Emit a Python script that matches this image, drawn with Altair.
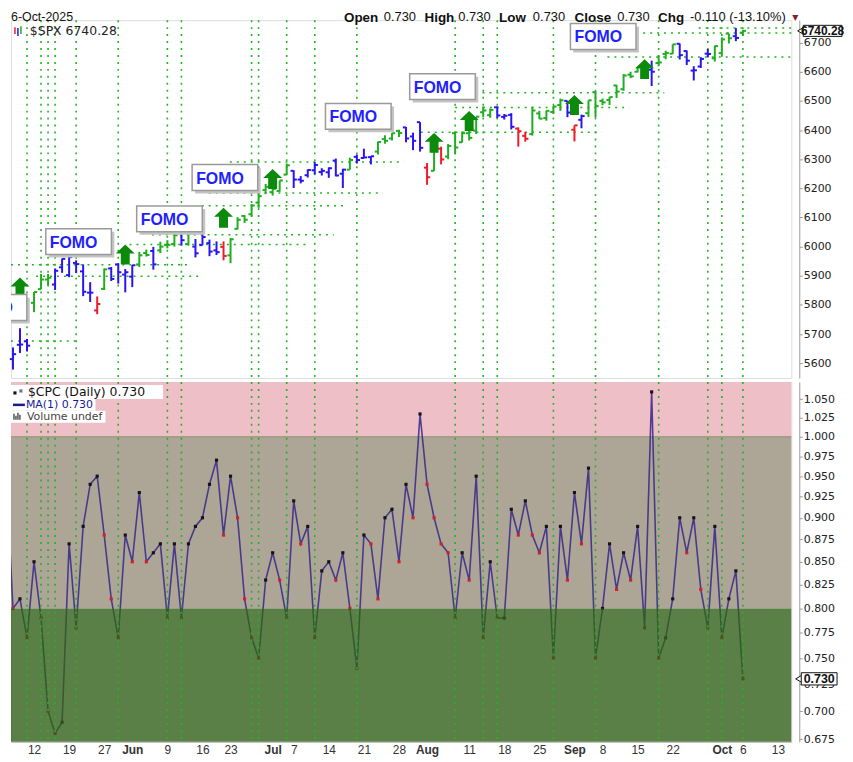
import json
import altair as alt
import pandas as pd

# ---------------- data (trading-day index: 0 = 7 May 2025 ... 104 = 6 Oct 2025) ----------------
spx_open = [5614, 5663, 5675, 5807, 5854, 5887, 5870, 5929, 5902, 5944,
            5915, 5842, 5781, 5855, 5925, 5939, 5904, 5897, 5939, 5978,
            5985, 5987, 6005, 6009, 6049, 6009, 6000, 6005, 6012, 5987,
            5999, 5970, 6061, 6105, 6111, 6151, 6194, 6187, 6191, 6247,
            6260, 6230, 6245, 6262, 6256, 6255, 6295, 6250, 6264, 6308,
            6304, 6307, 6326, 6369, 6371, 6397, 6409, 6378, 6427, 6271,
            6260, 6336, 6309, 6389, 6358, 6389, 6398, 6461, 6451, 6478,
            6445, 6452, 6405, 6380, 6386, 6457, 6441, 6462, 6486, 6500,
            6401, 6435, 6458, 6530, 6500, 6503, 6553, 6540, 6590, 6600,
            6620, 6607, 6630, 6661, 6662, 6696, 6671, 6604, 6618, 6662,
            6646, 6664, 6731, 6722, 6734]
spx_high = [5654, 5720, 5683, 5844, 5906, 5906, 5925, 5959, 5969, 5953,
            5939, 5878, 5829, 5925, 5930, 5943, 5923, 5937, 5982, 5990,
            5999, 6017, 6022, 6043, 6059, 6045, 6026, 6050, 6024, 6018,
            6018, 6029, 6101, 6108, 6146, 6187, 6215, 6211, 6227, 6285,
            6262, 6242, 6265, 6290, 6269, 6272, 6302, 6267, 6305, 6316,
            6336, 6310, 6360, 6382, 6390, 6401, 6410, 6391, 6427, 6287,
            6330, 6343, 6352, 6395, 6395, 6409, 6446, 6481, 6474, 6481,
            6455, 6458, 6409, 6394, 6480, 6466, 6467, 6482, 6508, 6500,
            6416, 6453, 6502, 6533, 6508, 6513, 6555, 6592, 6600, 6616,
            6627, 6638, 6656, 6672, 6694, 6697, 6673, 6619, 6650, 6678,
            6690, 6718, 6731, 6750, 6744]
spx_low = [5578, 5635, 5640, 5775, 5854, 5868, 5851, 5910, 5895, 5909,
           5830, 5810, 5768, 5851, 5882, 5873, 5843, 5861, 5930, 5966,
           5921, 5978, 5994, 6000, 6003, 6003, 5963, 6005, 5967, 5971,
           5953, 5943, 6059, 6081, 6103, 6133, 6180, 6175, 6188, 6247,
           6201, 6217, 6237, 6248, 6244, 6236, 6241, 6201, 6264, 6285,
           6303, 6282, 6316, 6353, 6364, 6376, 6358, 6331, 6326, 6212,
           6260, 6282, 6300, 6317, 6357, 6364, 6386, 6445, 6442, 6441,
           6436, 6402, 6343, 6360, 6381, 6438, 6432, 6455, 6466, 6444,
           6361, 6406, 6445, 6443, 6485, 6486, 6510, 6535, 6578, 6598,
           6601, 6551, 6619, 6643, 6661, 6642, 6623, 6570, 6613, 6649,
           6635, 6656, 6697, 6705, 6723]
spx_close = [5631, 5664, 5660, 5844, 5887, 5893, 5917, 5958, 5964, 5940,
             5845, 5842, 5803, 5922, 5889, 5912, 5912, 5936, 5970, 5971,
             5939, 6000, 6006, 6039, 6022, 6045, 5977, 6033, 5983, 5981,
             5968, 6025, 6092, 6092, 6141, 6173, 6205, 6198, 6227, 6279,
             6230, 6226, 6263, 6280, 6260, 6269, 6244, 6264, 6297, 6297,
             6306, 6310, 6359, 6363, 6389, 6390, 6371, 6363, 6339, 6238,
             6330, 6299, 6345, 6340, 6389, 6373, 6446, 6467, 6469, 6450,
             6449, 6411, 6396, 6370, 6467, 6439, 6466, 6481, 6502, 6460,
             6416, 6448, 6502, 6482, 6495, 6513, 6532, 6587, 6584, 6615,
             6607, 6600, 6632, 6664, 6694, 6657, 6638, 6605, 6644, 6661,
             6688, 6711, 6715, 6716, 6740.28]
# bar colour state: g = green, b = blue, r = red
bar_state = list("bbbgggbbbbbb" "r" "g" "bbbb" "gg" "b" "ggg" "b" "g" "bbbb" "r"
                 "ggggggggg" "bbbbbbbb" "g" "bbb" "gggg" "bbb" "r" "g" "r" "ggggggg"
                 "bbb" "rr" "ggggg" "b" "r" "b" "ggggggggg" "b" "ggg" "bbbbb" "ggg" "b" "g")

cpc_prev = 0.96
cpc_values = [0.80, 0.81, 0.77, 0.85, 0.79, 0.70, 0.68, 0.69, 0.87, 0.78,
              0.89, 0.94, 0.95, 0.88, 0.81, 0.77, 0.88, 0.85, 0.93, 0.85,
              0.86, 0.87, 0.79, 0.87, 0.79, 0.87, 0.89, 0.90, 0.94, 0.97,
              0.88, 0.95, 0.90, 0.81, 0.77, 0.75, 0.83, 0.86, 0.83, 0.79,
              0.92, 0.87, 0.89, 0.77, 0.84, 0.85, 0.83, 0.86, 0.80, 0.74,
              0.88, 0.87, 0.81, 0.90, 0.91, 0.85, 0.94, 0.90, 1.03, 0.94,
              0.90, 0.87, 0.86, 0.79, 0.86, 0.83, 0.95, 0.77, 0.85, 0.79,
              0.79, 0.91, 0.88, 0.92, 0.88, 0.86, 0.89, 0.75, 0.89, 0.83,
              0.93, 0.87, 0.96, 0.75, 0.80, 0.87, 0.82, 0.86, 0.83, 0.89,
              0.78, 1.06, 0.75, 0.77, 0.81, 0.90, 0.86, 0.90, 0.82, 0.78,
              0.89, 0.77, 0.81, 0.84, 0.73]

vline_idx = [2, 4, 5, 6, 9, 15, 22, 24, 34, 35, 39, 43, 49, 63, 67, 69, 77, 83, 92, 99, 101, 104]

hline_start = [-0.28, -0.28, 3.3, 16.6, 19.8, 26.9, 27.9, 30.9, 58.1, 63.0, 66.9, 84.7, 88.8, 97.7]
hline_end = [9.2, 25.2, 27.0, 41.8, 45.7, 47.7, 52.7, 55.7, 83.9, 87.8, 92.8, 110.8, 111.6, 111.6]
hline_price = [5676, 5938, 5898, 6007, 6041, 6140, 6184, 6290, 6392, 6477, 6528, 6651, 6733, 6750]

arrow_idx = [1, 16, 30, 37, 60, 65, 80, 90]
arrow_price = [5860, 5973, 6099, 6232, 6356, 6431, 6486, 6609]

fomo_idx = [-2.7, 9.35, 22.3, 30.2, 49.2, 61.2, 84.1]
fomo_price = [5791, 6017, 6095, 6237, 6447, 6549, 6721]

x_tick_idx = [3, 8, 13, 17, 22, 27, 31, 37, 40, 45, 50, 55, 59, 65, 70, 75, 80, 84, 89, 94, 101, 104, 109]
x_tick_text = ["12", "19", "27", "Jun", "9", "16", "23", "Jul", "7", "14", "21", "28", "Aug",
               "11", "18", "25", "Sep", "8", "15", "22", "Oct", "6", "13"]
month_idx = [17, 37, 59, 80, 101]

spx_ticks = [5600, 5700, 5800, 5900, 6000, 6100, 6200, 6300, 6400, 6500, 6600, 6700]
cpc_ticks = [0.675, 0.700, 0.725, 0.750, 0.775, 0.800, 0.825, 0.850, 0.875, 0.900,
             0.925, 0.950, 0.975, 1.000, 1.025, 1.050]
pink_lo, pink_hi = 1.0, 1.0737
tan_lo, tan_hi = 0.8, 1.0
green_lo, green_hi = 0.6726, 0.8

last_spx = 6740.28
last_cpc = 0.73

# ---------------- frames ----------------
n = len(spx_close)
bars = pd.DataFrame({"idx": list(range(n)), "o": spx_open, "h": spx_high, "l": spx_low,
                     "c": spx_close, "state": bar_state})
hlines = pd.DataFrame({"xs": hline_start, "xe": hline_end, "p": hline_price})
vlines = pd.DataFrame({"idx": vline_idx})
arrows = pd.DataFrame({"idx": arrow_idx, "p": arrow_price})
fomo = pd.DataFrame({"idx": fomo_idx, "p": fomo_price, "t": ["FOMO"] * len(fomo_idx)})

cpc_all = [cpc_prev] + cpc_values
cpc_line = pd.DataFrame({"idx": list(range(-1, n)), "v": cpc_all})
cpc_down = [cpc_all[k + 1] < cpc_all[k] for k in range(n)]
pts_up = pd.DataFrame({"idx": [k for k in range(n) if not cpc_down[k]],
                       "v": [cpc_values[k] for k in range(n) if not cpc_down[k]]})
pts_dn = pd.DataFrame({"idx": [k for k in range(n) if cpc_down[k]],
                       "v": [cpc_values[k] for k in range(n) if cpc_down[k]]})

# ---------------- scales / axes ----------------
W, H_TOP, H_BOT = 785, 360, 362
xs = alt.Scale(domain=[-0.283, 110.9], nice=False, zero=False)
ys_top = alt.Scale(domain=[5549, 6777], nice=False, zero=False)
ys_bot = alt.Scale(type="log", domain=[0.6726, 1.0737], nice=False)
state_scale = alt.Scale(domain=["g", "b", "r"], range=["#1fae1f", "#2a14f2", "#ee1c2b"])

y_axis_top = alt.Axis(orient="right", values=spx_ticks, format="d", offset=8, grid=False, title=None,
                      domainColor="#9a9a9a", tickColor="#9a9a9a", tickSize=3, labelPadding=1,
                      labelFont="DejaVu Sans", labelFontSize=11, labelColor="#222")
y_axis_bot = alt.Axis(orient="right", values=cpc_ticks, format=".3f", offset=8, grid=False, title=None,
                      domainColor="#9a9a9a", tickColor="#9a9a9a", tickSize=3, labelPadding=1,
                      labelFont="DejaVu Sans", labelFontSize=11, labelColor="#222")
ti = json.dumps(x_tick_idx)
label_expr = f"indexof({ti}, datum.value) >= 0 ? {json.dumps(x_tick_text)}[indexof({ti}, datum.value)] : ''"
x_axis_bot = alt.Axis(values=x_tick_idx, labelExpr=label_expr, grid=False, title=None,
                      domainColor="#bbbbbb", ticks=False, labelPadding=3, labelFlush=False,
                      labelOverlap=False, labelFont="Liberation Sans", labelFontSize=12,
                      labelColor="#333",
                      labelFontWeight={"condition": {"test": f"indexof({json.dumps(month_idx)}, datum.value) >= 0",
                                                     "value": "bold"}, "value": "normal"})

XT = lambda f: alt.X(f, scale=xs, axis=None)
YT = lambda f: alt.Y(f, scale=ys_top, axis=y_axis_top)
XB = lambda f: alt.X(f, scale=xs, axis=x_axis_bot)
YB = lambda f: alt.Y(f, scale=ys_bot, axis=y_axis_bot)

DOT = "#22b422"
DASH = [2, 5]


def txt(text, x, y, size=12, weight="normal", color="#111", font="DejaVu Sans", align="left",
        baseline="middle"):
    return alt.Chart().mark_text(text=text, align=align, baseline=baseline, font=font, fontSize=size,
                                 fontWeight=weight, color=color).encode(x=alt.value(x), y=alt.value(y))


# ---------------- top panel ----------------
t_hl = alt.Chart(hlines).mark_rule(color=DOT, strokeWidth=1.5, strokeDash=DASH).encode(
    x=XT("xs:Q"), x2="xe:Q", y=YT("p:Q"))
t_vl = alt.Chart(vlines).mark_rule(color=DOT, strokeWidth=1.6, strokeDash=DASH).encode(x=XT("idx:Q"))
col = alt.Color("state:N", scale=state_scale, legend=None)
t_bar = alt.Chart(bars).mark_rule(strokeWidth=2).encode(x=XT("idx:Q"), y=YT("l:Q"), y2="h:Q", color=col)
t_open = alt.Chart(bars).transform_calculate(xl="datum.idx - 0.45").mark_rule(strokeWidth=2).encode(
    x=XT("xl:Q"), x2="idx:Q", y=YT("o:Q"), color=col)
t_close = alt.Chart(bars).transform_calculate(xr="datum.idx + 0.45").mark_rule(strokeWidth=2).encode(
    x=XT("idx:Q"), x2="xr:Q", y=YT("c:Q"), color=col)

ARROW = "M0,-1 L0.95,-0.1 L0.45,-0.1 L0.45,1 L-0.45,1 L-0.45,-0.1 L-0.95,-0.1 Z"
t_arrow = alt.Chart(arrows).mark_point(shape=ARROW, filled=True, size=400, color="#0b8a0b",
                                       opacity=1).encode(x=XT("idx:Q"), y=YT("p:Q"))
BOX = "M-1,-0.394 L1,-0.394 L1,0.394 L-1,0.394 Z"
SHADOW = "M-0.91,-0.30 L1.09,-0.30 L1.09,0.485 L-0.91,0.485 Z"
t_shadow = alt.Chart(fomo).mark_point(shape=SHADOW, filled=True, size=4356, color="#c4c4c4", opacity=1,
                                      clip=True).encode(x=XT("idx:Q"), y=YT("p:Q"))
t_box = alt.Chart(fomo).mark_point(shape=BOX, filled=True, size=4356, fill="white", stroke="#9a9a9a",
                                   strokeWidth=1.5, opacity=1, clip=True).encode(x=XT("idx:Q"), y=YT("p:Q"))
t_fomo = alt.Chart(fomo).mark_text(font="Liberation Sans", fontSize=16, fontWeight="bold", color="#1f1fff",
                                   dx=-5, dy=1, clip=True).encode(x=XT("idx:Q"), y=YT("p:Q"), text="t:N")

legend_top = [
    alt.Chart().mark_rule(color="#ee1c2b", strokeWidth=1.5).encode(x=alt.value(4), y=alt.value(7), y2=alt.value(14)),
    alt.Chart().mark_rule(color="#2a14f2", strokeWidth=1.5).encode(x=alt.value(7), y=alt.value(8), y2=alt.value(16)),
    alt.Chart().mark_rule(color="#1fae1f", strokeWidth=1.5).encode(x=alt.value(10), y=alt.value(6), y2=alt.value(14)),
    txt("$SPX 6740.28", 19, 11, size=12.5, color="#222"),
]
HY = -9
header = [
    txt("6-Oct-2025", 0, HY, size=12.5, baseline="top", font="Liberation Sans"),
    txt("Open", 335, HY, size=13.5, weight="bold", baseline="top", font="Liberation Sans"),
    txt("0.730", 375, HY, size=13, baseline="top", font="Liberation Sans"),
    txt("High", 416, HY, size=13.5, weight="bold", baseline="top", font="Liberation Sans"),
    txt("0.730", 450, HY, size=13, baseline="top", font="Liberation Sans"),
    txt("Low", 491, HY, size=13.5, weight="bold", baseline="top", font="Liberation Sans"),
    txt("0.730", 525, HY, size=13, baseline="top", font="Liberation Sans"),
    txt("Close", 567, HY, size=13.5, weight="bold", baseline="top", font="Liberation Sans"),
    txt("0.730", 610, HY, size=13, baseline="top", font="Liberation Sans"),
    txt("Chg", 651, HY, size=13.5, weight="bold", baseline="top", font="Liberation Sans"),
    txt("-0.110 (-13.10%)", 683, HY, size=13, baseline="top", font="Liberation Sans"),
    txt("\u25bc", 786, HY + 3, size=8, color="#8b1a2a", baseline="top"),
]
spx_tag_df = pd.DataFrame({"p": [last_spx], "t": [f"{last_spx:.2f}"]})
t_tag_tri = alt.Chart(spx_tag_df).mark_point(shape="triangle-left", filled=True, size=70, fill="white",
                                             stroke="#111", strokeWidth=1, opacity=1).encode(
    x=alt.value(795), y=YT("p:Q"))
t_tag_box = alt.Chart(spx_tag_df).transform_calculate(p1="datum.p + 19", p2="datum.p - 19").mark_rect(
    fill="white", stroke="#111", strokeWidth=1).encode(
    x=alt.value(797), x2=alt.value(836), y=YT("p1:Q"), y2="p2:Q")
t_tag_txt = alt.Chart(spx_tag_df).mark_text(font="Liberation Sans", fontSize=12, fontWeight="bold",
                                            color="#111").encode(x=alt.value(816.5), y=YT("p:Q"), text="t:N")

top = alt.layer(t_hl, t_vl, t_bar, t_open, t_close, t_arrow, t_shadow, t_box, t_fomo,
                *legend_top, *header, t_tag_tri, t_tag_box, t_tag_txt).properties(width=W, height=H_TOP)

# ---------------- bottom panel ----------------
def band(lo, hi, color, opacity=1.0):
    return alt.Chart(pd.DataFrame({"lo": [lo], "hi": [hi]})).mark_rect(color=color, opacity=opacity).encode(
        x=alt.value(0), x2=alt.value(W), y=YB("lo:Q"), y2="hi:Q")


b_pink = band(pink_lo, pink_hi, "#efbfc7")
b_tan = band(tan_lo, tan_hi, "#ada596")
b_one = alt.Chart(pd.DataFrame({"v": [1.0]})).mark_rule(color="#8a9470", strokeWidth=1).encode(y=YB("v:Q"))
b_line = alt.Chart(cpc_line).mark_line(color="#3d2f8a", strokeWidth=1.6, opacity=0.9, clip=True).encode(
    x=XB("idx:Q"), y=YB("v:Q"))
b_up = alt.Chart(pts_up).mark_square(size=10, color="#141414", opacity=1).encode(x=XB("idx:Q"), y=YB("v:Q"))
b_dn = alt.Chart(pts_dn).mark_square(size=10, color="#d0202c", opacity=1).encode(x=XB("idx:Q"), y=YB("v:Q"))
b_green = band(green_lo, green_hi, "#316019", 0.8)
b_vl = alt.Chart(vlines).mark_rule(color=DOT, strokeWidth=1.6, strokeDash=DASH).encode(x=XB("idx:Q"))

legend_bot = [
    alt.Chart().mark_rect(color="white").encode(x=alt.value(0), x2=alt.value(153), y=alt.value(3), y2=alt.value(17)),
    alt.Chart().mark_rect(color="white").encode(x=alt.value(0), x2=alt.value(85), y=alt.value(17), y2=alt.value(29)),
    alt.Chart().mark_rect(color="white").encode(x=alt.value(0), x2=alt.value(95), y=alt.value(29), y2=alt.value(41)),
    alt.Chart().mark_square(size=10, color="#111", opacity=1).encode(x=alt.value(4), y=alt.value(11)),
    alt.Chart().mark_square(size=10, color="#777", opacity=1).encode(x=alt.value(10), y=alt.value(9)),
    txt("$CPC (Daily) 0.730", 17, 10, size=12.5, color="#111"),
    alt.Chart().mark_rule(color="#1a1a8c", strokeWidth=2.5).encode(x=alt.value(2), x2=alt.value(14), y=alt.value(23)),
    txt("MA(1) 0.730", 15, 23, size=11, color="#1a1a99"),
    alt.Chart().mark_rule(color="#555", strokeWidth=1.5).encode(x=alt.value(3), y=alt.value(32), y2=alt.value(38)),
    alt.Chart().mark_rule(color="#555", strokeWidth=1.5).encode(x=alt.value(5), y=alt.value(34), y2=alt.value(38)),
    alt.Chart().mark_rule(color="#555", strokeWidth=1.5).encode(x=alt.value(7), y=alt.value(31), y2=alt.value(38)),
    alt.Chart().mark_rule(color="#555", strokeWidth=1.5).encode(x=alt.value(9), y=alt.value(33), y2=alt.value(38)),
    txt("Volume undef", 16, 35, size=11, color="#444"),
]
cpc_tag_df = pd.DataFrame({"v": [last_cpc], "t": [f"{last_cpc:.3f}"]})
b_tag_tri = alt.Chart(cpc_tag_df).mark_point(shape="triangle-left", filled=True, size=70, fill="white",
                                             stroke="#111", strokeWidth=1, opacity=1).encode(
    x=alt.value(793), y=YB("v:Q"))
b_tag_box = alt.Chart(cpc_tag_df).transform_calculate(v1="datum.v * 1.0080", v2="datum.v / 1.0080").mark_rect(
    fill="white", stroke="#111", strokeWidth=1).encode(
    x=alt.value(795), x2=alt.value(831), y=YB("v1:Q"), y2="v2:Q")
b_tag_txt = alt.Chart(cpc_tag_df).mark_text(font="Liberation Sans", fontSize=12.5, fontWeight="bold",
                                            color="#111").encode(x=alt.value(813), y=YB("v:Q"), text="t:N")

bottom = alt.layer(b_pink, b_tan, b_one, b_line, b_up, b_dn, b_green, b_vl, *legend_bot,
                   b_tag_tri, b_tag_box, b_tag_txt).properties(width=W, height=H_BOT)

chart = alt.vconcat(top, bottom, spacing=0).properties(
    padding={"left": 0, "top": 0, "right": 0, "bottom": 0}
).configure_view(stroke="#b5b5b5", strokeWidth=1).configure(font="DejaVu Sans")

chart.save("out.html", embed_options={"renderer": "svg", "actions": False})
